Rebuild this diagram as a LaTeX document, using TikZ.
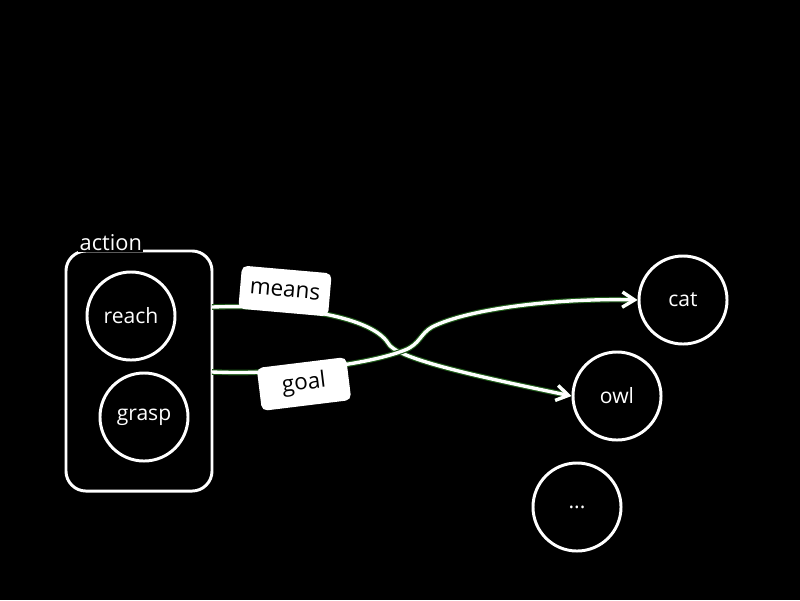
\documentclass[tikz,border=0pt]{standalone}
\usepackage{fontspec}
\setmainfont{Open Sans}
\usetikzlibrary{arrows.meta}
\definecolor{glow}{RGB}{30,90,25}
\tikzset{
  circ/.style={circle, draw=white, line width=2.1pt, minimum size=2.2cm, inner sep=0pt, text=white, font=\fontsize{15}{18}\selectfont},
  grp/.style={draw=white, line width=2.1pt, rounded corners=0.5cm, minimum width=3.65cm, minimum height=6cm, inner sep=0pt},
  lab/.style={fill=white, rounded corners=4pt, minimum width=2.25cm, minimum height=1.08cm, inner sep=0pt, text=black, font=\fontsize{16}{19}\selectfont},
  edge/.style={draw=white, line width=2.4pt, preaction={draw=glow, line width=4pt}},
  tip/.style={-{Straight Barb[length=3mm, width=3.8mm, line width=2.4pt]}}
}
\begin{document}
\begin{tikzpicture}[x=0.025cm, y=-0.025cm]
\fill[black] (0,0) rectangle (800,600);
\useasboundingbox (0,0) rectangle (800,600);
% group
\node[grp] (box) at (139,371) {};
\node[fill=black, inner sep=1pt, text=white, font=\fontsize{15.5}{18}\selectfont, anchor=base west] (actlab) at (78,250) {action};
\node[circ] (reach) at (131,316) {reach};
\node[circ] (grasp) at (144,417) {grasp};
\node[circ] (cat) at (683,300) {cat};
\node[circ] (owl) at (617,396) {owl};
\node[circ] (dots) at (577,507) {...};
% connector ends
\coordinate (ms) at (212,307);
\coordinate (gs) at (212,372);
\coordinate (mk) at (388,343);
\coordinate (gk) at (432,327);
% edges
\draw[edge, tip] (ms) .. controls (300,304) and (372,318) .. (mk)
  .. controls (395,358) and (470,375) .. (owl.west);
\draw[edge, tip] (gs) .. controls (290,375) and (370,364) .. (405,350)
  .. controls (420,344) and (420,334) .. (gk)
  .. controls (470,308) and (560,298) .. (cat.west);
% labels
\node[lab, rotate=-5] (means) at (285,291) {means};
\node[lab, rotate=7] (goal) at (304,384) {goal};
\end{tikzpicture}
\end{document}
